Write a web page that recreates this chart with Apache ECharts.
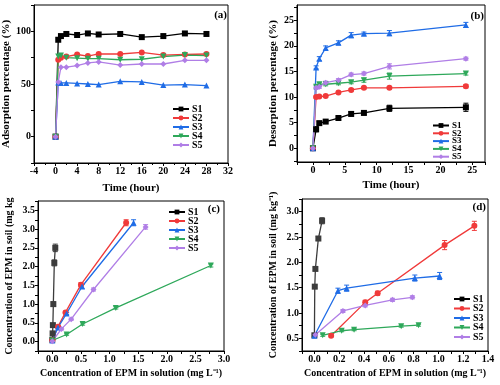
<!DOCTYPE html>
<html>
<head>
<meta charset="utf-8">
<script src="https://cdn.jsdelivr.net/npm/echarts@6/dist/echarts.min.js"></script>
<style>
  html, body { margin: 0; padding: 0; background: #fff; }
  #chart { width: 500px; height: 385px; }
</style>
</head>
<body>
<div id="chart"></div>
<script>
// names, colours and markers shared by the 4 panels
const names = ['S1', 'S2', 'S3', 'S4', 'S5'];
const colorsTop = ['#000000', '#f03a3a', '#1f6ce6', '#2ea85a', '#b07ee6'];
const colorsBottom = ['#3c3c3c', '#f03a3a', '#1f6ce6', '#2ea85a', '#b07ee6'];
const symbols = ['rect', 'circle', 'triangle', 'path://M0,0L10,0L5,9Z', 'diamond'];

// (a) adsorption kinetics
const timeA = [0, 0.5, 1, 2, 4, 6, 8, 12, 16, 20, 24, 28];
const adsS1 = [0, 92, 95.5, 97.5, 96.5, 98, 97, 97.5, 94.5, 95.5, 98, 97.5];
const adsS2 = [0, 73, 75, 76, 78, 76.5, 78.5, 78.5, 80, 77.5, 78, 78.5];
const adsS3 = [0, 51.5, 51, 51, 50.5, 50, 49.5, 52.5, 52, 49, 49.5, 48.5];
const adsS4 = [0, 76, 77, 75, 74.5, 74, 74, 73, 73.5, 76, 77.5, 77];
const adsS5 = [0, 52, 66, 66, 67.5, 70, 71, 68, 69, 69, 72.5, 72.5];

// (b) desorption kinetics (value, error)
const timeB = [0, 0.5, 1, 2, 4, 6, 8, 12, 24];
const desS1 = [0, 3.7, 4.9, 5.2, 5.9, 6.7, 6.9, 7.8, 8.0];
const desS2 = [0, 10.0, 10.1, 10.2, 10.9, 11.4, 11.8, 11.8, 12.1];
const desS3 = [0, 15.8, 17.5, 19.6, 20.6, 22.1, 22.4, 22.5, 24.1];
const desS4 = [0, 12.0, 12.5, 12.5, 12.7, 12.9, 13.3, 14.1, 14.6];
const desS5 = [0, 11.8, 12.0, 12.8, 13.3, 14.4, 14.6, 16.0, 17.5];
const errS1 = [0, 0.5, 0.3, 0.3, 0.3, 0.4, 0.4, 0.6, 0.8];
const errS2 = [0, 0.2, 0.2, 0.2, 0.2, 0.2, 0.2, 0.2, 0.3];
const errS3 = [0, 0.3, 0.4, 0.4, 0.4, 0.5, 0.3, 0.5, 0.5];
const errS4 = [0, 0.3, 0.3, 0.3, 0.3, 0.3, 0.4, 0.6, 0.3];
const errS5 = [0, 0.3, 0.3, 0.3, 0.3, 0.3, 0.3, 0.5, 0.3];

// (c) and (d) isotherms: [Ce, Qe, error]
const isoC_S1 = [[0, 0.05, 0.03], [0.005, 0.22, 0.03], [0.01, 0.44, 0.03], [0.018, 1.0, 0.06], [0.035, 2.1, 0.08], [0.052, 2.5, 0.1]];
const isoC_S2 = [[0, 0.04, 0.02], [0.1, 0.4, 0.03], [0.23, 0.78, 0.03], [0.5, 1.52, 0.05], [1.29, 3.17, 0.08]];
const isoC_S3 = [[0, 0.03, 0.02], [0.1, 0.38, 0.03], [0.25, 0.75, 0.03], [0.52, 1.47, 0.05], [1.42, 3.17, 0.08]];
const isoC_S4 = [[0, 0.03, 0.02], [0.25, 0.19, 0.02], [0.53, 0.47, 0.03], [1.11, 0.9, 0.03], [2.77, 2.03, 0.04]];
const isoC_S5 = [[0, 0.01, 0.02], [0.16, 0.34, 0.03], [0.33, 0.6, 0.03], [0.72, 1.39, 0.04], [1.63, 3.06, 0.06]];

const isoD_S1 = [[0, 0.56, 0.02], [0.003, 1.52, 0.03], [0.008, 1.87, 0.03], [0.032, 2.47, 0.04], [0.062, 2.82, 0.06]];
const isoD_S2 = [[0.135, 0.55, 0.02], [0.41, 1.21, 0.04], [0.51, 1.39, 0.04], [1.05, 2.34, 0.09], [1.29, 2.72, 0.09]];
const isoD_S3 = [[0, 0.55, 0.02], [0.19, 1.44, 0.05], [0.26, 1.49, 0.06], [0.81, 1.69, 0.06], [1.01, 1.73, 0.07]];
const isoD_S4 = [[0.067, 0.56, 0.02], [0.22, 0.65, 0.02], [0.32, 0.67, 0.02], [0.7, 0.74, 0.02], [0.84, 0.76, 0.02]];
const isoD_S5 = [[0.008, 0.57, 0.02], [0.23, 1.04, 0.03], [0.41, 1.15, 0.03], [0.63, 1.26, 0.03], [0.79, 1.31, 0.03]];

const FONT = 'Liberation Serif';

function zip(xs, ys, es) {
    return xs.map((x, i) => es ? [x, ys[i], es[i]] : [x, ys[i]]);
}

function lineSeries(name, idx, axis, data, colors, size) {
    return {
        name: name,
        type: 'line',
        xAxisIndex: axis,
        yAxisIndex: axis,
        data: data.map(d => [d[0], d[1]]),
        symbol: symbols[idx],
        symbolSize: size || 6,
        color: colors[idx],
        lineStyle: { width: 1.3 },
        z: 3
    };
}

// vertical error bars with caps
function errSeries(name, idx, axis, data, colors) {
    return {
        name: name + ' err',
        type: 'custom',
        xAxisIndex: axis,
        yAxisIndex: axis,
        data: data,
        encode: { x: 0, y: 1 },
        z: 2,
        silent: true,
        renderItem: function (params, api) {
            const x = api.value(0), y = api.value(1), e = api.value(2);
            const hi = api.coord([x, y + e]);
            const lo = api.coord([x, y - e]);
            const w = 2.5;
            const st = { stroke: colors[idx], lineWidth: 1 };
            return {
                type: 'group',
                children: [
                    { type: 'line', shape: { x1: hi[0], y1: hi[1], x2: lo[0], y2: lo[1] }, style: st },
                    { type: 'line', shape: { x1: hi[0] - w, y1: hi[1], x2: hi[0] + w, y2: hi[1] }, style: st },
                    { type: 'line', shape: { x1: lo[0] - w, y1: lo[1], x2: lo[0] + w, y2: lo[1] }, style: st }
                ]
            };
        }
    };
}

function isHalf(v) {
    return Math.abs(Math.round(v * 2) - v * 2) < 1e-6;
}

function axisBase(gridIndex, name, gap, nameSize) {
    return {
        type: 'value',
        gridIndex: gridIndex,
        name: name,
        nameLocation: 'middle',
        nameGap: gap,
        nameTextStyle: { fontFamily: FONT, fontWeight: 'bold', fontSize: nameSize, color: '#000' },
        axisLine: { show: true, onZero: false, lineStyle: { color: '#000', width: 1 } },
        axisTick: { show: true, length: 3, lineStyle: { color: '#000' } },
        axisLabel: { fontFamily: FONT, fontWeight: 'bold', fontSize: 10, color: '#000', margin: 3 },
        splitLine: { show: false }
    };
}

const series = [];
const adsA = [adsS1, adsS2, adsS3, adsS4, adsS5];
const desB = [desS1, desS2, desS3, desS4, desS5];
const errB = [errS1, errS2, errS3, errS4, errS5];
const isoC = [isoC_S1, isoC_S2, isoC_S3, isoC_S4, isoC_S5];
const isoD = [isoD_S1, isoD_S2, isoD_S3, isoD_S4, isoD_S5];

names.forEach((n, i) => {
    series.push(lineSeries(n, i, 0, zip(timeA, adsA[i]), colorsTop, 6));
});
names.forEach((n, i) => {
    const d = zip(timeB, desB[i], errB[i]);
    series.push(errSeries(n, i, 1, d, colorsTop));
    series.push(lineSeries(n, i, 1, d, colorsTop, 6));
});
names.forEach((n, i) => {
    series.push(errSeries(n, i, 2, isoC[i], colorsBottom));
    series.push(lineSeries(n, i, 2, isoC[i], colorsBottom, 6));
});
names.forEach((n, i) => {
    series.push(errSeries(n, i, 3, isoD[i], colorsBottom));
    series.push(lineSeries(n, i, 3, isoD[i], colorsBottom, 6));
});

function legendAt(left, top, gap, size) {
    return {
        data: names,
        orient: 'vertical',
        left: left,
        top: top,
        itemGap: gap,
        itemWidth: 16,
        itemHeight: 6,
        selectedMode: false,
        textStyle: { fontFamily: FONT, fontWeight: 'bold', fontSize: size, color: '#000', padding: [0, 0, 0, -2] },
        padding: 0
    };
}

const gridBox = { show: true, borderColor: '#000', borderWidth: 1, containLabel: false };

const xA = Object.assign(axisBase(0, 'Time (hour)', 20, 11), {
    min: -4, max: 32, interval: 4
});
xA.minorTick = { show: true, splitNumber: 2, length: 2, lineStyle: { color: '#000' } };
const yA = Object.assign(axisBase(0, 'Adsorption percentage (%)', 22, 11), {
    min: -25, max: 125, interval: 25
});
yA.axisLabel.formatter = v => (v % 50 === 0 ? String(v) : '');

const xB = Object.assign(axisBase(1, 'Time (hour)', 18, 11), {
    min: -2.5, max: 27, interval: 2.5
});
xB.axisLabel.formatter = v => (v % 5 === 0 ? String(v) : '');
const yB = Object.assign(axisBase(1, 'Desorption percentage (%)', 18, 11), {
    min: -2.7, max: 28
});
yB.axisLabel.customValues = [0, 5, 10, 15, 20, 25];
yB.axisTick.customValues = [-2.5, 0, 2.5, 5, 7.5, 10, 12.5, 15, 17.5, 20, 22.5, 25, 27.5];

const xC = Object.assign(axisBase(2, 'Concentration of EPM in solution (mg L\u207B\u00B9)', 17, 10), {
    min: -0.25, max: 3, interval: 0.25
});
xC.axisLabel.formatter = v => (isHalf(v) && v >= 0 ? v.toFixed(1) : '');
const yC = Object.assign(axisBase(2, 'Concentration of EPM in soil (mg kg', 24, 10), {
    min: -0.25, max: 3.75, interval: 0.25
});
yC.axisLabel.formatter = v => (isHalf(v) && v >= 0 ? v.toFixed(1) : '');

const xD = Object.assign(axisBase(3, 'Concentration of EPM in solution (mg L\u207B\u00B9)', 17, 10), {
    min: -0.1, max: 1.4, interval: 0.1
});
xD.axisLabel.formatter = v => (Math.round(v * 10) % 2 === 0 && v >= 0 ? v.toFixed(1) : '');
const yD = Object.assign(axisBase(3, 'Concentration of EPM in soil (mg kg\u207B\u00B9)', 24, 10), {
    min: 0.25, max: 3.25, interval: 0.25
});
yD.axisLabel.formatter = v => (isHalf(v) ? v.toFixed(1) : '');

function panelLabel(text, x, y) {
    return {
        type: 'text',
        x: x,
        y: y,
        style: { text: text, textAlign: 'right', textVerticalAlign: 'middle', font: 'bold 11px "Liberation Serif"', fill: '#000' },
        z: 10
    };
}

const chart = echarts.init(document.getElementById('chart'), null, { renderer: 'canvas' });
chart.setOption({
    animation: false,
    backgroundColor: '#fff',
    grid: [
        Object.assign({ left: 34, top: 5, width: 194, height: 158 }, gridBox),
        Object.assign({ left: 297, top: 5, width: 188, height: 157 }, gridBox),
        Object.assign({ left: 38, top: 201, width: 186, height: 150 }, gridBox),
        Object.assign({ left: 302, top: 199, width: 186, height: 152 }, gridBox)
    ],
    xAxis: [xA, xB, xC, xD],
    yAxis: [yA, yB, yC, yD],
    legend: [
        legendAt(172, 104, -1, 10),
        legendAt(432, 121, -1.2, 9),
        legendAt(168, 207, -1, 10),
        legendAt(453, 294, -0.5, 10)
    ],
    graphic: [
        panelLabel('(a)', 227, 15),
        panelLabel('(b)', 484, 16),
        panelLabel('(c)', 220, 209),
        panelLabel('(d)', 486, 207)
    ],
    series: series
});
</script>
</body>
</html>
